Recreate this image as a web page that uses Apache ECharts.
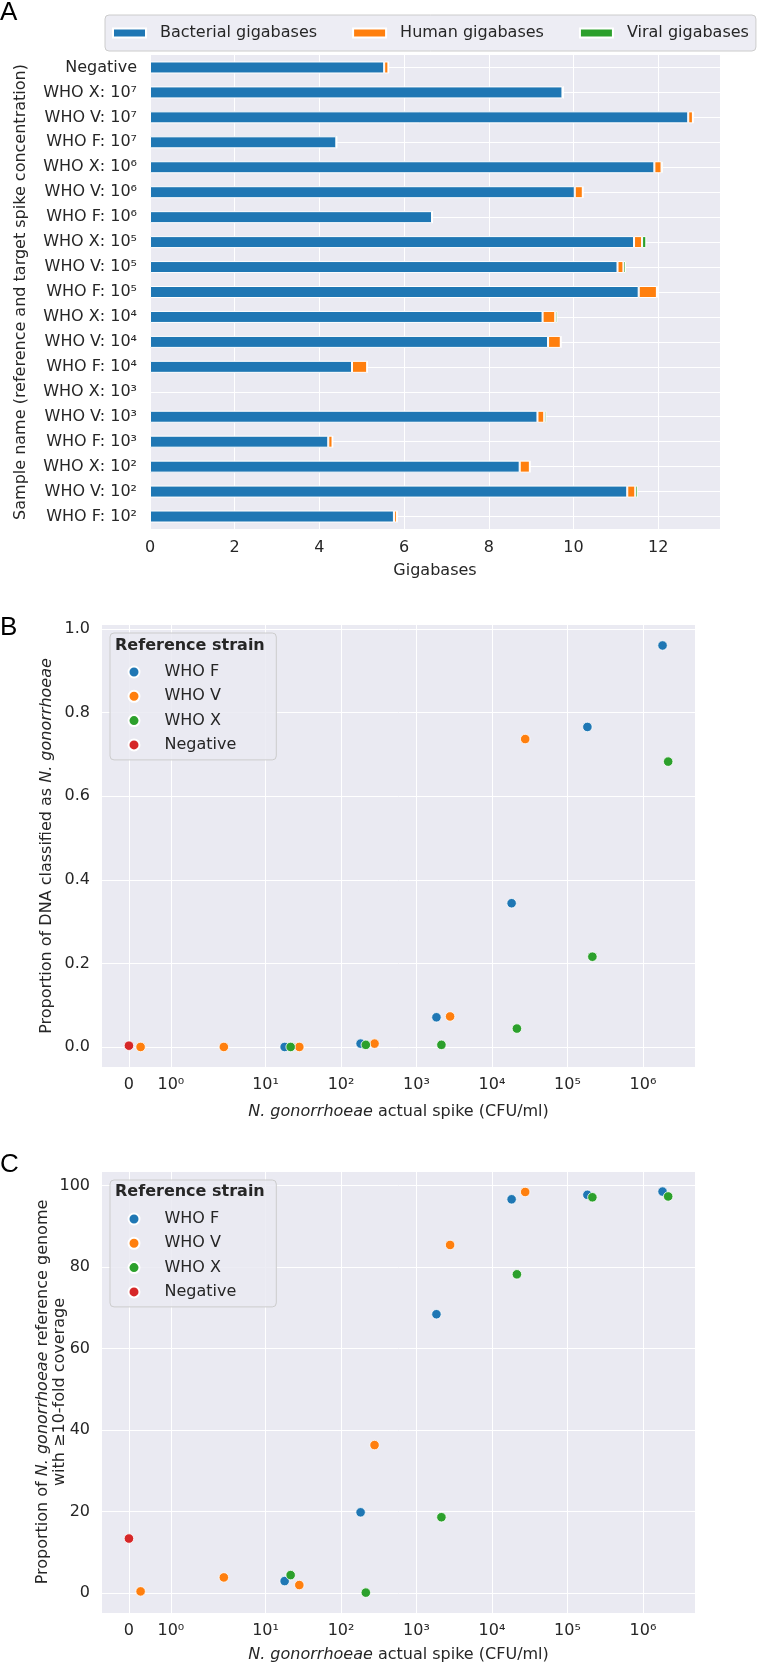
<!DOCTYPE html>
<html><head><meta charset="utf-8">
<script src="https://cdn.jsdelivr.net/npm/echarts@6/dist/echarts.min.js"></script>
<style>html,body{margin:0;padding:0;background:#fff}#c{width:766px;height:1666px}</style>
</head><body><div id="c"></div>
<script>
// ---------- Panel A data ----------
const sampleNames = ['Negative','WHO X: 10⁷','WHO V: 10⁷','WHO F: 10⁷','WHO X: 10⁶','WHO V: 10⁶','WHO F: 10⁶','WHO X: 10⁵','WHO V: 10⁵','WHO F: 10⁵','WHO X: 10⁴','WHO V: 10⁴','WHO F: 10⁴','WHO X: 10³','WHO V: 10³','WHO F: 10³','WHO X: 10²','WHO V: 10²','WHO F: 10²'];
const bacterialGb = [5.53,9.74,12.71,4.40,11.91,10.03,6.66,11.43,11.04,11.54,9.27,9.40,4.77,0,9.15,4.21,8.73,11.27,5.76];
const humanGb     = [0.10,0.02,0.11,0.01,0.17,0.19,0.01,0.19,0.14,0.43,0.30,0.30,0.36,0,0.16,0.10,0.24,0.19,0.07];
const viralGb     = [0.01,0.00,0.01,0.00,0.03,0.01,0.00,0.10,0.06,0.01,0.05,0.01,0.00,0,0.05,0.01,0.01,0.06,0.01];
const gbTicks = [0,2,4,6,8,10,12];

// ---------- Panels B & C data ----------
const strains = ['WHO F','WHO V','WHO X','Negative'];
const spikeF = [17.9,181.6,1837,18200,183700,1820000];
const spikeV = [0.278,2.8,28,278,2787,27550];
const spikeX = [21.5,213,2138,21390,213900,2160000];
const spikeNeg = [0];
const propF = [0.000,0.008,0.071,0.344,0.766,0.961];
const propV = [0.000,0.000,0.000,0.008,0.073,0.737];
const propX = [0.000,0.005,0.005,0.044,0.216,0.683];
const propNeg = [0.003];
const covF = [2.93,19.8,68.4,96.6,97.7,98.5];
const covV = [0.4,3.83,1.96,36.3,85.4,98.4];
const covX = [4.4,0.1,18.6,78.2,97.1,97.3];
const covNeg = [13.37];
const spikeTickValues = [0,1,10,100,1000,10000,100000,1000000];
const spikeTickLabels = ['0','10⁰','10¹','10²','10³','10⁴','10⁵','10⁶'];
const propTicks = [0,0.2,0.4,0.6,0.8,1.0];
const covTicks = [0,20,40,60,80,100];

// symmetric log scale (linthresh 2, linscale 1, base 10)
function symlog(v){
  const t = 2, s = 1/(1-1/10), a = Math.abs(v);
  const r = a <= t ? a*s : t*(s + Math.log10(a/t));
  return v < 0 ? -r : r;
}
const spikeTickU = spikeTickValues.map(symlog);
function spikeLabel(u){
  let best = 0, d = Infinity;
  spikeTickU.forEach((t,i)=>{ if (Math.abs(t-u) < d){ d = Math.abs(t-u); best = i; } });
  return spikeTickLabels[best];
}
const pts = (xs, ys) => xs.map((x,i)=>[symlog(x), ys[i]]);

const FONT = 'DejaVu Sans';
const TXT = '#262626';
const BG = '#EAEAF2';
const COLORS = {'WHO F':'#1f77b4','WHO V':'#ff7f0e','WHO X':'#2ca02c','Negative':'#d62728'};

const chart = echarts.init(document.getElementById('c'), null, {renderer:'canvas'});

const baseText = {fontFamily: FONT, fontSize: 16, color: TXT};
const richI = {i: {fontFamily: FONT, fontSize: 16, color: TXT, fontStyle: 'italic'}};
const nameStyle = Object.assign({}, baseText, {rich: richI, lineHeight: 18, verticalAlign: 'middle'});
const richG = {i: {fontFamily: FONT, fontSize: 16, fill: TXT, fontStyle: 'italic'}};

function vTitle(x, y, text){
  return {type:'text', x, y, rotation: Math.PI/2, z: 50,
    style:{text, rich: richG, fontFamily: FONT, fontSize: 16, fill: TXT, align:'center', verticalAlign:'middle'}};
}

function spikeAxis(gridIndex, margin, nameGap){
  return {
    type: 'value', gridIndex, min: -0.714, max: 15.0,
    name: '{i|N. gonorrhoeae} actual spike (CFU/ml)',
    nameLocation: 'middle', nameGap,
    nameTextStyle: nameStyle,
    axisLine: {show:false},
    axisTick: {show:false, customValues: spikeTickU},
    axisLabel: Object.assign({}, baseText, {customValues: spikeTickU, margin, formatter: v => spikeLabel(v)}),
    splitLine: {show:true, lineStyle:{color:'#ffffff', width:1}}
  };
}
function valAxis(gridIndex, min, max, ticks, fmt){
  return {
    type: 'value', gridIndex, min, max,
    axisLine: {show:false},
    axisTick: {show:false, customValues: ticks},
    axisLabel: Object.assign({}, baseText, {customValues: ticks, margin: 12, formatter: fmt}),
    splitLine: {show:true, lineStyle:{color:'#ffffff', width:1}}
  };
}

function scatterSeries(xi, ys){
  const xs = {'WHO F':spikeF,'WHO V':spikeV,'WHO X':spikeX,'Negative':spikeNeg};
  return strains.map(s => ({
    type:'scatter', name:s, xAxisIndex:xi, yAxisIndex:xi,
    data: pts(xs[s], ys[s]), symbolSize: 9.5,
    itemStyle: {color: COLORS[s], borderColor:'#ffffff', borderWidth:0.8, opacity:1},
    emphasis: {disabled:true}
  }));
}

function strainLegend(top){
  return {
    data: strains, orient:'vertical', left:110, top,
    icon:'circle', itemWidth:11, itemHeight:11, itemGap:8.3,
    padding:[31,40,7,17.5],
    backgroundColor:'rgba(234,234,242,0.85)', borderColor:'#cccccc', borderWidth:1, borderRadius:4,
    textStyle: Object.assign({}, baseText, {padding:[0,0,0,20], lineHeight:16})
  };
}

const letterStyle = {fontFamily:'Liberation Sans', fontSize:26, fontWeight:'normal', color:'#000'};
const option = {
  animation:false,
  backgroundColor:'#ffffff',
  title: [
    {text:'A', left:0, top:0, padding:0, textStyle:letterStyle},
    {text:'B', left:0, top:615, padding:0, textStyle:letterStyle},
    {text:'C', left:0, top:1152, padding:0, textStyle:letterStyle},
    {text:'Reference strain', left:115, top:638, padding:0, z:20, textStyle:Object.assign({}, baseText, {fontWeight:'bold'})},
    {text:'Reference strain', left:115, top:1184, padding:0, z:20, textStyle:Object.assign({}, baseText, {fontWeight:'bold'})}
  ],
  graphic: [
    vTitle(21, 292, 'Sample name (reference and target spike concentration)'),
    vTitle(47, 846, 'Proportion of DNA classified as {i|N. gonorrhoeae}'),
    vTitle(43, 1392, 'Proportion of {i|N. gonorrhoeae} reference genome'),
    vTitle(60, 1392, 'with ≥10-fold coverage')
  ],
  legend: [
    {
      data:['Bacterial gigabases','Human gigabases','Viral gigabases'],
      left:105, top:15, icon:'rect', itemWidth:33, itemHeight:9, itemGap:35,
      padding:[10,7,10,7],
      backgroundColor:'rgba(234,234,242,0.85)', borderColor:'#cccccc', borderWidth:1, borderRadius:4,
      textStyle: Object.assign({}, baseText, {padding:[0,0,0,9]})
    },
    strainLegend(633),
    strainLegend(1180)
  ],
  grid: [
    {left:150, top:55, width:570, height:474, show:true, backgroundColor:BG, borderWidth:0},
    {left:102, top:625, width:593, height:442, show:true, backgroundColor:BG, borderWidth:0},
    {left:102, top:1172, width:593, height:441, show:true, backgroundColor:BG, borderWidth:0}
  ],
  xAxis: [
    {
      type:'value', gridIndex:0, min:0, max:13.46,
      name:'Gigabases', nameLocation:'middle', nameGap:42, nameTextStyle: nameStyle,
      axisLine:{show:false},
      axisTick:{show:false, customValues: gbTicks},
      axisLabel: Object.assign({}, baseText, {customValues: gbTicks, margin:11}),
      splitLine:{show:true, lineStyle:{color:'#ffffff', width:1}}
    },
    spikeAxis(1, 10, 45),
    spikeAxis(2, 10, 42)
  ],
  yAxis: [
    {
      type:'category', gridIndex:0, data: sampleNames, inverse:true,
      axisLine:{show:false},
      axisTick:{show:false, alignWithLabel:true},
      axisLabel: Object.assign({}, baseText, {margin:13}),
      splitLine:{show:true, alignWithLabel:true, lineStyle:{color:'#ffffff', width:1}}
    },
    valAxis(1, -0.048, 1.01, propTicks, v => v.toFixed(1)),
    valAxis(2, -4.9, 103.3, covTicks, v => String(Math.round(v)))
  ],
  series: [
    {type:'bar', name:'Bacterial gigabases', stack:'gb', xAxisIndex:0, yAxisIndex:0, data:bacterialGb, barWidth:12,
     itemStyle:{color:'#1f77b4', borderColor:'#ffffff', borderWidth:1}},
    {type:'bar', name:'Human gigabases', stack:'gb', xAxisIndex:0, yAxisIndex:0, data:humanGb, barWidth:12,
     itemStyle:{color:'#ff7f0e', borderColor:'#ffffff', borderWidth:1}},
    {type:'bar', name:'Viral gigabases', stack:'gb', xAxisIndex:0, yAxisIndex:0, data:viralGb, barWidth:12,
     itemStyle:{color:'#2ca02c', borderColor:'#ffffff', borderWidth:1}}
  ]
  .concat(scatterSeries(1, {'WHO F':propF,'WHO V':propV,'WHO X':propX,'Negative':propNeg}))
  .concat(scatterSeries(2, {'WHO F':covF,'WHO V':covV,'WHO X':covX,'Negative':covNeg}))
};
chart.setOption(option);
</script>
</body></html>
